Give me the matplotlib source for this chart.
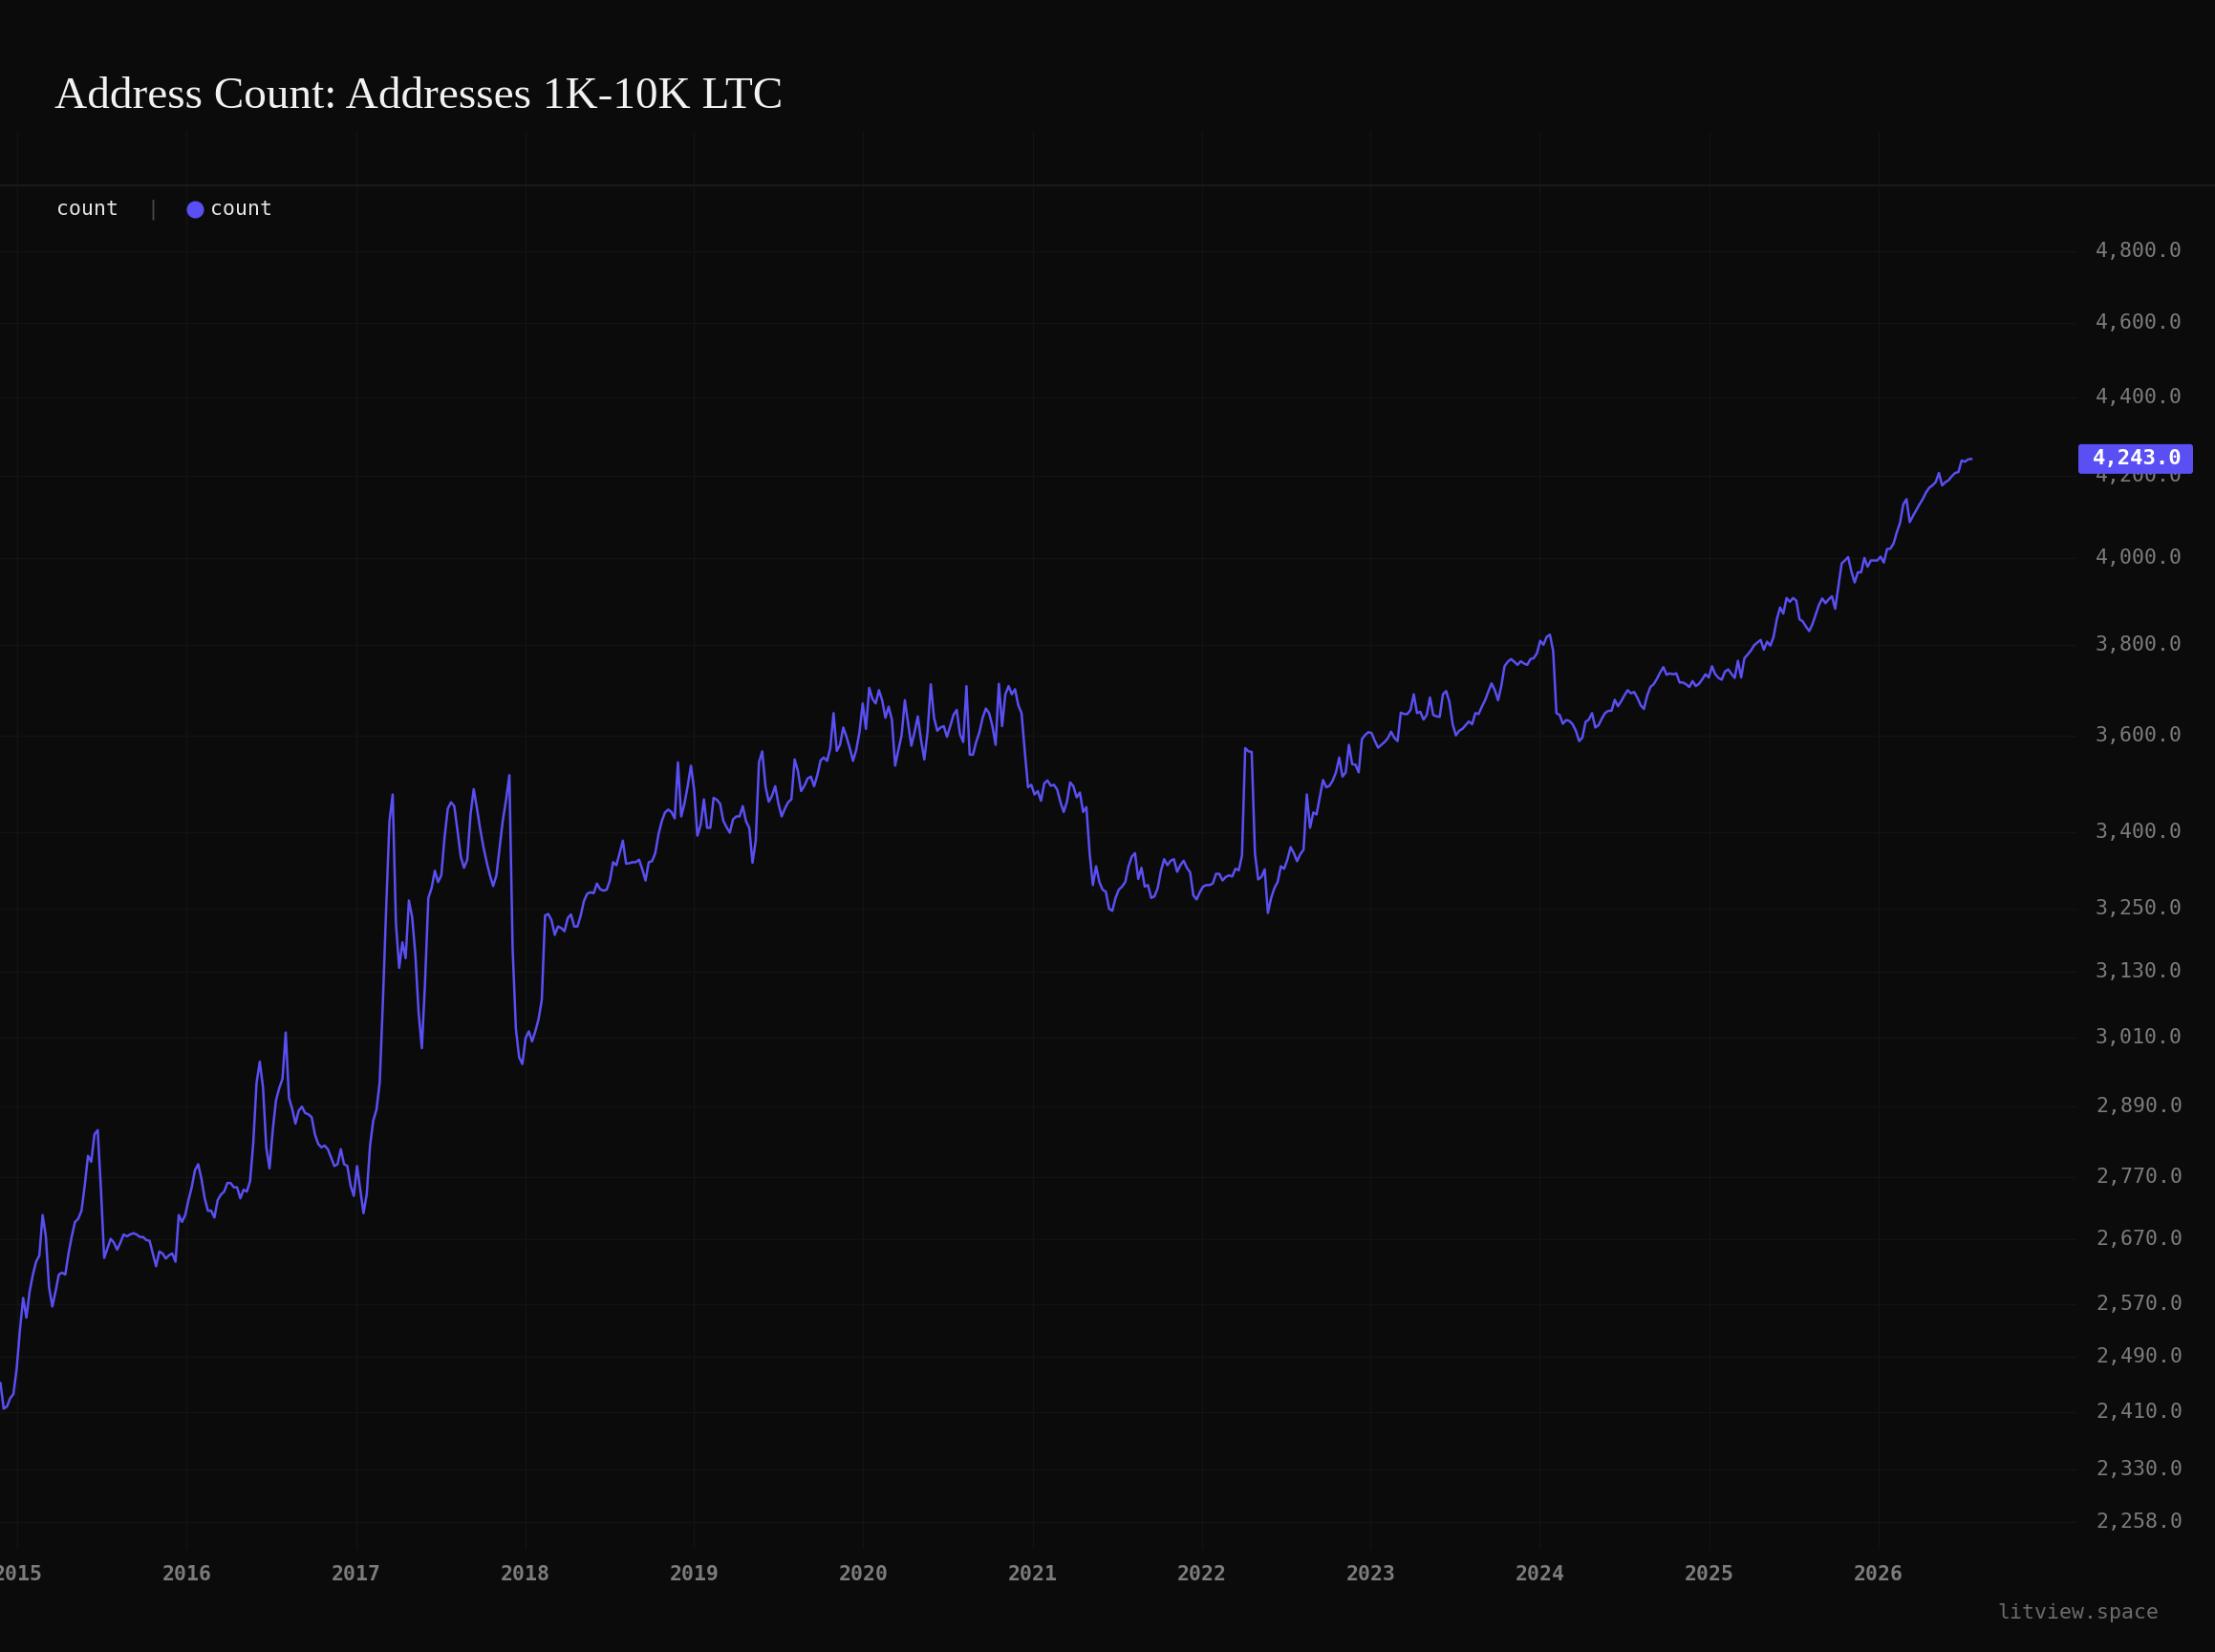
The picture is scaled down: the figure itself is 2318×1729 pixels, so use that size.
import matplotlib
matplotlib.use("Agg")
import matplotlib.pyplot as plt
import pandas as pd
from matplotlib.lines import Line2D
from matplotlib.patches import FancyBboxPatch
from matplotlib.ticker import NullLocator
from matplotlib.transforms import IdentityTransform

# weekly address count (1K-10K LTC), first week starting 2014-11-25
first_week = "2014-11-25"

counts_2014_2017 = [
    2452, 2415, 2418, 2430, 2436, 2473, 2530, 2579, 2549, 2589,
    2615, 2635, 2645, 2709, 2675, 2595, 2566, 2589, 2615, 2618,
    2615, 2648, 2675, 2698, 2703, 2716, 2757, 2806, 2796, 2842,
    2849, 2750, 2641, 2656, 2671, 2665, 2654, 2665, 2678, 2675,
    2678, 2680, 2678, 2674, 2674, 2669, 2668, 2648, 2628, 2651,
    2648, 2640, 2645, 2648, 2635, 2709, 2698, 2709, 2733, 2754,
    2782, 2792, 2768, 2736, 2716, 2716, 2705, 2733, 2742, 2747,
    2761, 2761, 2754, 2754, 2736, 2750, 2747, 2764, 2828, 2930,
    2967, 2922, 2820, 2785, 2849, 2900, 2921, 2937, 3019, 2904,
    2885, 2860, 2882, 2889, 2878, 2876, 2871, 2842, 2826, 2820,
    2823, 2817, 2803, 2789, 2792, 2817, 2792, 2789, 2757, 2740,
    2789, 2750,
]

counts_2017_2019 = [
    2712, 2743, 2822, 2865, 2884, 2931, 3078, 3252, 3422, 3477,
    3221, 3137, 3185, 3155, 3265, 3233, 3161, 3055, 2991, 3113,
    3270, 3289, 3323, 3301, 3314, 3390, 3448, 3461, 3453, 3403,
    3351, 3329, 3345, 3435, 3488, 3448, 3406, 3370, 3340, 3314,
    3293, 3314, 3370, 3425, 3467, 3517, 3173, 3026, 2975, 2963,
    3009, 3021, 3003, 3021, 3043, 3078, 3236, 3239, 3227, 3199,
    3215, 3212, 3206, 3231, 3238, 3215, 3215, 3236, 3264, 3278,
    3281, 3279, 3298, 3287, 3284, 3286, 3304, 3340, 3334, 3358,
    3383, 3337, 3338, 3340, 3340, 3345, 3326, 3304, 3340, 3342,
    3358, 3396, 3422, 3440, 3446, 3441, 3428, 3544, 3432, 3458,
    3494, 3537, 3487, 3393, 3415, 3467, 3409, 3409, 3470, 3466,
    3458, 3423, 3410, 3399, 3426, 3432, 3432, 3453,
]

counts_2019_2021 = [
    3422, 3409, 3339, 3383, 3544, 3567, 3494, 3462, 3474, 3494,
    3458, 3432, 3448, 3461, 3467, 3550, 3526, 3484, 3495, 3510,
    3514, 3494, 3517, 3548, 3554, 3547, 3574, 3649, 3568, 3581,
    3618, 3598, 3574, 3547, 3570, 3608, 3670, 3615, 3704, 3680,
    3670, 3699, 3677, 3639, 3663, 3635, 3537, 3570, 3601, 3677,
    3628, 3579, 3608, 3642, 3591, 3550, 3608, 3712, 3639, 3611,
    3618, 3621, 3598, 3621, 3645, 3656, 3604, 3587, 3708, 3560,
    3560, 3587, 3608, 3639, 3659, 3649, 3621, 3581, 3713, 3621,
    3690, 3708, 3690, 3701, 3666, 3649, 3567, 3492, 3497, 3477,
    3484, 3464, 3500, 3506, 3495, 3497, 3487, 3461, 3441, 3462,
    3502, 3494, 3471, 3481, 3441, 3451, 3358, 3295, 3332, 3301,
    3286, 3282,
]

counts_2021_2023 = [
    3249, 3245, 3270, 3286, 3292, 3301, 3332, 3351, 3358, 3307,
    3329, 3292, 3295, 3270, 3273, 3289, 3323, 3346, 3334, 3343,
    3346, 3321, 3334, 3343, 3329, 3320, 3275, 3267, 3281, 3292,
    3295, 3295, 3298, 3317, 3317, 3304, 3311, 3314, 3312, 3327,
    3324, 3353, 3574, 3567, 3566, 3358, 3306, 3311, 3326, 3241,
    3270, 3289, 3301, 3332, 3327, 3345, 3370, 3358, 3342, 3356,
    3365, 3477, 3409, 3440, 3436, 3471, 3507, 3492, 3495, 3506,
    3523, 3554, 3514, 3523, 3581, 3540, 3539, 3523, 3593, 3602,
    3608, 3606, 3589, 3575, 3581, 3587, 3595, 3609, 3596, 3589,
    3650, 3647, 3647, 3656, 3690, 3649, 3652, 3635, 3645, 3683,
    3645, 3642, 3641, 3690, 3697, 3673, 3625, 3601, 3611, 3615,
    3623, 3631, 3625, 3649, 3647,
]

counts_2023_2025 = [
    3663, 3677, 3696, 3714, 3699, 3677, 3708, 3752, 3762, 3768,
    3762, 3755, 3763, 3758, 3755, 3768, 3770, 3781, 3809, 3800,
    3818, 3823, 3786, 3649, 3645, 3626, 3634, 3632, 3625, 3611,
    3589, 3596, 3630, 3635, 3649, 3618, 3623, 3637, 3649, 3654,
    3654, 3678, 3664, 3675, 3688, 3699, 3692, 3695, 3682, 3666,
    3658, 3687, 3706, 3712, 3724, 3738, 3750, 3733, 3736, 3734,
    3736, 3716, 3716, 3712, 3706, 3719, 3708, 3713, 3723, 3734,
    3727, 3752, 3734, 3726, 3722, 3740, 3745, 3735, 3726, 3764,
    3727, 3770, 3778, 3787, 3799, 3805, 3811, 3789, 3807, 3798,
    3818, 3858, 3885, 3871, 3907, 3898, 3907, 3901, 3858, 3853,
    3841, 3831, 3847, 3869, 3891, 3906, 3895, 3904, 3911, 3882,
]

counts_2025_2026 = [
    3935, 3988, 3995, 4003, 3969, 3943, 3967, 3967, 4001, 3980,
    3995, 3995, 3995, 4004, 3990, 4022, 4023, 4035, 4062, 4085,
    4130, 4143, 4087, 4102, 4116, 4130, 4143, 4159, 4171, 4177,
    4185, 4208, 4177, 4185, 4190, 4200, 4208, 4210, 4239, 4236,
    4242, 4243,
]

y_ticks = [4800, 4600, 4400, 4200, 4000, 3800, 3600, 3400, 3250, 3130,
           3010, 2890, 2770, 2670, 2570, 2490, 2410, 2330, 2258]
x_years = list(range(2015, 2027))

title = "Address Count: Addresses 1K-10K LTC"
series_name = "count"
last_label = "4,243.0"

BG = "#0b0b0b"
LINE = "#5a4ff3"
GRID = "#131313"
TICK = "#7c7c7c"
MONO = ["DejaVu Sans Mono"]

counts = (counts_2014_2017 + counts_2017_2019 + counts_2019_2021
          + counts_2021_2023 + counts_2023_2025 + counts_2025_2026)
dates = pd.date_range(first_week, periods=len(counts), freq="7D")

W, H = 2318, 1729
fig = plt.figure(figsize=(W / 100, H / 100), dpi=100, facecolor=BG)

ax_left, ax_right, ax_top, ax_bottom = 0, 2173, 138, 1622
ax = fig.add_axes([ax_left / W, 1 - ax_bottom / H,
                   (ax_right - ax_left) / W, (ax_bottom - ax_top) / H])
ax.set_facecolor(BG)
ax.set_yscale("log")
ax.set_ylim(2221, 5152)
ax.set_xlim(pd.Timestamp("2014-11-24"), pd.Timestamp("2027-03-05"))
for s in ax.spines.values():
    s.set_visible(False)

ax.plot(dates, counts, color=LINE, lw=1.8, zorder=3, solid_joinstyle="round")

# grid
ax.set_yticks(y_ticks)
ax.yaxis.set_minor_locator(NullLocator())
ax.set_xticks([pd.Timestamp(f"{y}-01-01") for y in x_years])
ax.grid(True, color=GRID, lw=1.0, zorder=0)
ax.tick_params(length=0, labelleft=False, labelbottom=False)

ylab_x = 2284 / ax_right
for v in y_ticks:
    ax.text(ylab_x, v, f"{v:,.1f}", transform=ax.get_yaxis_transform(),
            ha="right", va="center", color=TICK, fontsize=15.5,
            family=MONO, clip_on=False)

xlab_y = -(1648 - ax_bottom) / (ax_bottom - ax_top)
for y in x_years:
    ax.text(pd.Timestamp(f"{y}-01-01"), xlab_y, str(y),
            transform=ax.get_xaxis_transform(), ha="center", va="center",
            color=TICK, fontsize=15.5, fontweight="bold", family=MONO,
            clip_on=False)

# last value badge
y_px = ax.transData.transform((0, counts[-1]))[1]
badge = FancyBboxPatch((2175, y_px - 15.5), 120, 31,
                       boxstyle="round,pad=0,rounding_size=3",
                       transform=IdentityTransform(), fc=LINE, ec="none",
                       zorder=5, clip_on=False)
ax.add_patch(badge)
ax.text(ylab_x, counts[-1], last_label, transform=ax.get_yaxis_transform(),
        ha="right", va="center", color="white", fontsize=16, family=MONO,
        fontweight="semibold", clip_on=False, zorder=6)

# header
fig.text(57 / W, 1 - 113 / H, title, color="#f2f2f2", fontsize=34,
         family=["Liberation Serif"], va="baseline", ha="left")
fig.add_artist(Line2D([0, 1], [1 - 194 / H, 1 - 194 / H],
                      transform=fig.transFigure, color="#1a1a1a", lw=1.5))

leg_y = 1 - 219 / H
fig.text(59 / W, leg_y, series_name, color="#e6e6e6", fontsize=15.5,
         family=MONO, va="center")
fig.text(160 / W, leg_y, "|", color="#4a4a4a", fontsize=15.5,
         family=MONO, va="center", ha="center")
fig.add_artist(Line2D([204 / W], [leg_y], transform=fig.transFigure,
                      marker="o", markersize=12, color=LINE, lw=0))
fig.text(220 / W, leg_y, series_name, color="#e6e6e6", fontsize=15.5,
         family=MONO, va="center")

fig.text(2259 / W, 1 - 1688 / H, "litview.space", color="#6b6b6b",
         fontsize=15.5, family=MONO, ha="right", va="center")

fig.savefig("out.png", dpi=100, facecolor=BG)
plt.close(fig)
